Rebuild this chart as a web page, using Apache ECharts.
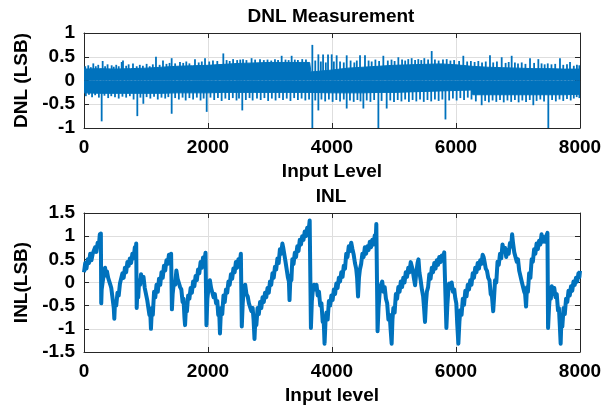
<!DOCTYPE html>
<html><head><meta charset="utf-8">
<script src="https://cdn.jsdelivr.net/npm/echarts@6/dist/echarts.min.js"></script>
<style>html,body{margin:0;padding:0;background:#fff}#c{width:613px;height:410px}</style>
</head><body><div id="c"></div>
<script>
// ---------- DATA ----------
const xTicks = [0, 2000, 4000, 6000, 8000];
const dnlTicks = [-1, -0.5, 0, 0.5, 1];
const inlTicks = [-1.5, -1, -0.5, 0, 0.5, 1, 1.5];

// DNL: dense band (upper / lower edge of the solid noise band)
const dnlEnvX = [0, 250, 500, 750, 1000, 1250, 1500, 1750, 2000, 2250, 2500, 2750, 3000, 3250, 3500, 3640, 3660, 4000, 4250, 4500, 4750, 5000, 5250, 5500, 5750, 6000, 6250, 6270, 6500, 6750, 7000, 7250, 7500, 7750, 8000];
const dnlUpper = [0.24, 0.25, 0.24, 0.25, 0.26, 0.28, 0.30, 0.31, 0.32, 0.34, 0.36, 0.37, 0.38, 0.38, 0.38, 0.38, 0.18, 0.22, 0.26, 0.28, 0.30, 0.32, 0.33, 0.34, 0.35, 0.33, 0.30, 0.30, 0.28, 0.27, 0.26, 0.25, 0.25, 0.24, 0.24];
const dnlLower = [-0.26, -0.27, -0.27, -0.27, -0.27, -0.27, -0.26, -0.26, -0.26, -0.25, -0.25, -0.25, -0.25, -0.25, -0.25, -0.25, -0.25, -0.26, -0.26, -0.26, -0.25, -0.25, -0.24, -0.23, -0.22, -0.21, -0.20, -0.30, -0.30, -0.30, -0.30, -0.30, -0.30, -0.30, -0.29];

// DNL: individual spikes sticking out of the band
const dnlSpikeUpX = [20, 69, 110, 150, 190, 230, 301, 340, 380, 446, 480, 520, 560, 608, 629, 680, 720, 790, 850, 900, 950, 1010, 1060, 1110, 1161, 1220, 1274, 1330, 1380, 1414, 1470, 1548, 1600, 1650, 1700, 1790, 1850, 1900, 1952, 2020, 2080, 2150, 2247, 2300, 2350, 2405, 2470, 2520, 2565, 2620, 2703, 2760, 2839, 2900, 2960, 3020, 3080, 3130, 3188, 3250, 3300, 3349, 3400, 3450, 3520, 3580, 3683, 3730, 3780, 3820, 3856, 3900, 3936, 3995, 4030, 4075, 4130, 4190, 4237, 4300, 4360, 4400, 4452, 4532, 4590, 4640, 4700, 4760, 4828, 4900, 4960, 5010, 5070, 5130, 5180, 5230, 5285, 5340, 5392, 5440, 5489, 5550, 5608, 5660, 5720, 5790, 5850, 5910, 5970, 6050, 6118, 6180, 6240, 6300, 6360, 6420, 6480, 6548, 6600, 6660, 6737, 6800, 6850, 6898, 6950, 7000, 7060, 7120, 7194, 7260, 7328, 7380, 7430, 7480, 7540, 7600, 7677, 7730, 7790, 7839, 7900, 7950, 7989];
const dnlSpikeUpY = [0.30, 0.32, 0.28, 0.36, 0.30, 0.33, 0.41, 0.30, 0.34, 0.32, 0.29, 0.33, 0.30, 0.39, 0.42, 0.31, 0.34, 0.36, 0.30, 0.33, 0.31, 0.35, 0.30, 0.34, 0.50, 0.33, 0.42, 0.35, 0.37, 0.47, 0.36, 0.39, 0.37, 0.40, 0.36, 0.45, 0.38, 0.40, 0.47, 0.40, 0.42, 0.41, 0.57, 0.43, 0.41, 0.45, 0.43, 0.44, 0.45, 0.43, 0.47, 0.44, 0.45, 0.43, 0.44, 0.42, 0.45, 0.43, 0.52, 0.44, 0.43, 0.52, 0.44, 0.43, 0.45, 0.44, 0.75, 0.42, 0.55, 0.40, 0.55, 0.38, 0.55, 0.55, 0.40, 0.53, 0.40, 0.38, 0.53, 0.42, 0.38, 0.42, 0.53, 0.53, 0.42, 0.40, 0.44, 0.41, 0.52, 0.42, 0.44, 0.41, 0.49, 0.44, 0.42, 0.45, 0.47, 0.43, 0.45, 0.43, 0.47, 0.44, 0.62, 0.44, 0.42, 0.44, 0.45, 0.42, 0.43, 0.41, 0.52, 0.40, 0.41, 0.39, 0.41, 0.38, 0.40, 0.53, 0.38, 0.40, 0.49, 0.37, 0.39, 0.52, 0.38, 0.36, 0.38, 0.35, 0.47, 0.37, 0.45, 0.36, 0.34, 0.36, 0.34, 0.35, 0.47, 0.33, 0.34, 0.39, 0.31, 0.33, 0.32];
const dnlSpikeDownX = [30, 80, 130, 180, 240, 285, 330, 390, 440, 500, 560, 620, 680, 740, 800, 860, 910, 957, 1010, 1070, 1130, 1190, 1250, 1310, 1360, 1414, 1470, 1530, 1590, 1640, 1700, 1760, 1820, 1880, 1930, 1979, 2040, 2100, 2160, 2220, 2280, 2340, 2400, 2460, 2500, 2553, 2610, 2670, 2720, 2790, 2850, 2910, 2970, 3030, 3090, 3150, 3210, 3270, 3330, 3390, 3450, 3510, 3570, 3630, 3683, 3730, 3780, 3830, 3890, 3950, 4010, 4070, 4130, 4190, 4237, 4290, 4350, 4410, 4460, 4506, 4560, 4620, 4680, 4748, 4800, 4882, 4940, 5000, 5060, 5120, 5180, 5240, 5300, 5360, 5420, 5480, 5540, 5600, 5660, 5720, 5780, 5830, 5890, 5950, 6010, 6070, 6130, 6190, 6250, 6320, 6414, 6470, 6530, 6590, 6650, 6710, 6770, 6830, 6890, 6950, 7010, 7070, 7130, 7190, 7247, 7300, 7360, 7420, 7489, 7550, 7610, 7670, 7730, 7790, 7850, 7900, 7947, 7990];
const dnlSpikeDownY = [-0.33, -0.30, -0.35, -0.31, -0.36, -0.86, -0.32, -0.37, -0.33, -0.35, -0.38, -0.34, -0.36, -0.33, -0.40, -0.75, -0.36, -0.49, -0.35, -0.38, -0.34, -0.40, -0.36, -0.38, -0.35, -0.70, -0.37, -0.40, -0.36, -0.42, -0.37, -0.40, -0.36, -0.42, -0.38, -0.66, -0.36, -0.41, -0.37, -0.43, -0.38, -0.41, -0.37, -0.42, -0.38, -0.63, -0.41, -0.37, -0.42, -0.38, -0.41, -0.37, -0.43, -0.38, -0.42, -0.37, -0.41, -0.38, -0.43, -0.37, -0.41, -0.38, -0.42, -0.40, -1.0, -0.42, -0.63, -0.40, -0.44, -0.40, -0.45, -0.41, -0.44, -0.40, -0.59, -0.42, -0.45, -0.41, -0.44, -0.59, -0.42, -0.45, -0.41, -1.0, -0.43, -0.59, -0.42, -0.45, -0.41, -0.44, -0.40, -0.45, -0.41, -0.44, -0.40, -0.45, -0.41, -0.44, -0.40, -0.43, -0.40, -0.82, -0.42, -0.38, -0.42, -0.37, -0.41, -0.36, -0.40, -0.44, -0.52, -0.43, -0.46, -0.42, -0.45, -0.41, -0.46, -0.42, -0.45, -0.41, -0.46, -0.42, -0.45, -0.41, -0.52, -0.43, -0.40, -0.44, -1.0, -0.41, -0.44, -0.40, -0.43, -0.39, -0.42, -0.38, -0.35, -0.37];

// INL trace (read segment by segment; each line of X matches the same line of Y)
const inlX = [
  0, 20, 40, 60, 80, 100, 120, 140, 160, 180, 200, 220, 240, 255, 265, 272,
  278, 285, 300, 320, 340, 355, 370, 390, 410, 425, 440, 455, 470, 480, 489,
  500, 520, 540, 560, 580, 600, 620, 640, 660, 680, 700, 720, 740, 760, 780, 800, 820, 835, 842,
  850, 860, 875, 890, 905, 920, 940, 960, 980, 1000, 1020, 1040, 1055, 1068, 1080,
  1095, 1110, 1130, 1150, 1170, 1190, 1210, 1230, 1250, 1270, 1290, 1310, 1330, 1350, 1370, 1390, 1405,
  1418, 1430, 1450, 1470, 1490, 1510, 1530, 1550, 1570, 1590, 1605, 1620, 1630,
  1645, 1660, 1680, 1700, 1720, 1740, 1760, 1780, 1800, 1820, 1840, 1860, 1880, 1900, 1920, 1940, 1960,
  1975, 1990, 2010, 2030, 2050, 2070, 2090, 2110, 2130, 2150, 2165, 2180, 2193,
  2210, 2230, 2250, 2270, 2290, 2310, 2330, 2350, 2370, 2390, 2410, 2430, 2450, 2470, 2490, 2510, 2530,
  2545, 2560, 2580, 2600, 2620, 2640, 2660, 2680, 2700, 2720, 2735, 2750,
  2765, 2780, 2800, 2820, 2840, 2860, 2880, 2900, 2920, 2940, 2960, 2980, 3000, 3020, 3040, 3060, 3080, 3100, 3120, 3140, 3160, 3180, 3200, 3215, 3230,
  3250, 3270, 3290, 3305, 3315,
  3330, 3345, 3360, 3380, 3400, 3420, 3440, 3460, 3480, 3500, 3520, 3540, 3560, 3580, 3600, 3620, 3640,
  3660, 3675, 3690, 3710, 3730, 3750, 3770, 3790, 3810, 3830, 3850, 3865, 3880,
  3895, 3910, 3930, 3950, 3970, 3990, 4010, 4030, 4050, 4070, 4090, 4110, 4130, 4150, 4170, 4190, 4210, 4230, 4250, 4270, 4290, 4310, 4330,
  4350, 4370, 4390, 4405, 4420,
  4435, 4450, 4470, 4490, 4510, 4530, 4550, 4570, 4590, 4610, 4630, 4650, 4670, 4690, 4705, 4715,
  4735, 4750, 4770, 4790, 4810, 4830, 4850, 4870, 4890, 4910, 4930, 4945, 4962,
  4975, 4990, 5010, 5030, 5050, 5070, 5090, 5110, 5130, 5150, 5170, 5190, 5210, 5230, 5250, 5270, 5285,
  5300, 5320, 5340, 5360, 5380, 5395, 5410, 5430, 5450, 5470, 5485, 5500,
  5515, 5530, 5550, 5570, 5590, 5610, 5630, 5650, 5670, 5690, 5710, 5730, 5750, 5770, 5790, 5810, 5830,
  5845, 5860, 5875, 5890, 5910, 5930, 5950, 5970, 5990, 6005, 6020, 6038,
  6055, 6070, 6090, 6110, 6130, 6150, 6170, 6190, 6210, 6230, 6250, 6270, 6290, 6310, 6330, 6350, 6370, 6390, 6410, 6430, 6445,
  6460, 6480, 6500, 6520, 6540, 6560, 6580, 6600,
  6615, 6630, 6650, 6670, 6690, 6710, 6730, 6750, 6770, 6790, 6810, 6830,
  6850, 6870, 6890, 6905,
  6920, 6940, 6960, 6980, 7000, 7020, 7040, 7060, 7080, 7100, 7115, 7130,
  7145, 7160, 7180, 7200, 7220, 7240, 7260, 7280, 7300, 7320, 7340, 7360, 7380, 7400, 7420, 7440, 7460, 7475,
  7485, 7500, 7515, 7530, 7545, 7565, 7585, 7605, 7625, 7645, 7660, 7675, 7688,
  7700, 7715, 7735, 7755, 7775, 7795, 7815, 7835, 7855, 7875, 7895, 7915, 7935, 7955, 7975, 7990, 8000
];
const inlY = [
  0.22, 0.42, 0.30, 0.50, 0.42, 0.62, 0.48, 0.62, 0.58, 0.76, 0.66, 0.86, 0.80, 1.04, 0.90, 1.06,
  -0.45, -0.15, 0.0, 0.18, 0.32, 0.15, 0.24, 0.10, 0.12, -0.05, -0.12, -0.28, -0.32, -0.55, -0.78,
  -0.42, -0.50, -0.22, -0.28, -0.02, -0.05, 0.20, 0.10, 0.32, 0.22, 0.44, 0.36, 0.52, 0.42, 0.62, 0.52, 0.76, 0.66, 0.84,
  -0.55, -0.20, -0.32, 0.05, -0.05, 0.18, 0.02, 0.12, -0.12, -0.15, -0.38, -0.35, -0.70, -0.62, -1.0,
  -0.55, -0.70, -0.20, -0.32, -0.05, -0.20, 0.08, -0.05, 0.22, 0.10, 0.36, 0.26, 0.48, 0.40, 0.60, 0.45, 0.62,
  -0.58, -0.25, 0.0, -0.05, 0.26, 0.08, 0.12, -0.10, -0.15, -0.42, -0.35, -0.75, -0.92,
  -0.52, -0.62, -0.28, -0.35, -0.12, -0.22, 0.02, -0.08, 0.14, 0.05, 0.28, 0.20, 0.44, 0.32, 0.54, 0.44, 0.64,
  -0.92, -0.35, -0.10, 0.05, -0.12, -0.15, -0.32, -0.25, -0.45, -0.40, -0.70, -0.60, -1.10,
  -0.55, -0.68, -0.28, -0.42, -0.15, -0.22, 0.02, -0.05, 0.18, 0.08, 0.30, 0.22, 0.44, 0.32, 0.50, 0.40, 0.62,
  -0.95, -0.45, -0.10, -0.05, -0.25, -0.30, -0.45, -0.42, -0.62, -0.55, -0.80, -1.22,
  -0.75, -0.92, -0.55, -0.68, -0.42, -0.55, -0.32, -0.42, -0.22, -0.32, -0.12, -0.22, 0.02, -0.05, 0.20, 0.10, 0.34, 0.28, 0.52, 0.42, 0.72, 0.62, 0.84, 0.74, 0.78,
  0.45, 0.48, 0.10, 0.02, -0.38,
  0.15, 0.05, 0.50, 0.40, 0.64, 0.55, 0.78, 0.68, 0.92, 0.82, 1.00, 0.92, 1.10, 1.00, 1.18, 1.08, 1.34,
  -0.98, -0.40, -0.18, -0.05, -0.15, -0.05, -0.28, -0.20, -0.50, -0.45, -0.85, -0.78, -1.32,
  -0.85, -0.65, -0.80, -0.40, -0.50, -0.28, -0.38, -0.15, -0.25, -0.02, -0.12, 0.10, 0.02, 0.22, 0.12, 0.36, 0.30, 0.62, 0.55, 0.78, 0.68, 0.86, 0.72,
  0.60, 0.42, 0.30, 0.10, -0.30,
  0.10, 0.28, 0.40, 0.62, 0.55, 0.76, 0.62, 0.78, 0.70, 0.88, 0.76, 0.92, 0.82, 1.02, 0.90, 1.26,
  -1.05, -0.55, -0.20, -0.05, 0.02, -0.20, -0.10, -0.35, -0.45, -0.80, -0.70, -1.00, -1.32,
  -0.80, -0.55, -0.65, -0.25, -0.35, -0.10, -0.20, 0.02, -0.10, 0.10, 0.00, 0.22, 0.12, 0.32, 0.22, 0.44, 0.48,
  0.28, 0.10, -0.06, 0.22, 0.42, 0.50, 0.22, 0.05, -0.15, -0.30, -0.55, -0.85,
  -0.45, -0.20, -0.10, 0.18, 0.08, 0.32, 0.22, 0.42, 0.30, 0.48, 0.38, 0.55, 0.44, 0.58, 0.50, 0.65, 0.62,
  -0.98, -0.50, -0.20, -0.02, -0.12, 0.0, -0.20, -0.15, -0.35, -0.45, -0.90, -1.32,
  -0.85, -0.60, -0.70, -0.35, -0.48, -0.18, -0.30, -0.05, -0.15, 0.05, -0.05, 0.20, 0.10, 0.32, 0.22, 0.42, 0.30, 0.48, 0.40, 0.60, 0.55,
  0.45, 0.30, 0.25, 0.10, 0.05, -0.25, -0.30, -0.62,
  -0.30, 0.05, 0.0, 0.45, 0.38, 0.62, 0.52, 0.82, 0.70, 0.75, 0.55, 0.70,
  0.62, 0.85, 0.78, 1.04,
  0.85, 0.65, 0.68, 0.45, 0.50, 0.25, 0.28, 0.02, 0.05, -0.20, -0.25, -0.52,
  -0.10, -0.20, 0.20, 0.10, 0.50, 0.45, 0.72, 0.62, 0.84, 0.72, 0.90, 0.82, 1.04, 0.88, 0.98, 0.88, 1.02, 1.07,
  -0.98, -0.55, -0.25, -0.35, -0.08, -0.25, -0.12, -0.32, -0.25, -0.60, -0.55, -0.95, -1.32,
  -0.80, -0.95, -0.55, -0.68, -0.35, -0.42, -0.18, -0.28, -0.08, -0.18, 0.02, -0.05, 0.10, 0.02, 0.20, 0.12, 0.25
];

// ---------- CHART ----------
const BLUE = '#0072BD';
const FONT = '"Liberation Sans", Arial, Helvetica, sans-serif';
const txt = { fontFamily: FONT, fontWeight: 'bold', fontSize: 19, color: '#000' };
const zip = (a, b) => a.map((v, i) => [v, b[i]]);
const plain = v => String(v);

function xMain(grid, name) {
  return {
    gridIndex: grid, type: 'value', position: 'bottom',
    min: xTicks[0], max: xTicks[xTicks.length - 1], interval: xTicks[1] - xTicks[0],
    axisLine: { onZero: false, lineStyle: { color: '#262626', width: 1 } },
    axisTick: { inside: true, length: 5, lineStyle: { color: '#262626' } },
    axisLabel: Object.assign({ margin: 10, formatter: plain }, txt),
    splitLine: { show: true, lineStyle: { color: '#dedede', width: 1 } },
    name: name, nameLocation: 'middle', nameGap: 34, nameTextStyle: Object.assign({}, txt)
  };
}
function xMirror(grid) {
  return {
    gridIndex: grid, type: 'value', position: 'top',
    min: xTicks[0], max: xTicks[xTicks.length - 1], interval: xTicks[1] - xTicks[0],
    axisLine: { onZero: false, lineStyle: { color: '#262626', width: 1 } },
    axisTick: { inside: true, length: 5, lineStyle: { color: '#262626' } },
    axisLabel: { show: false }, splitLine: { show: false }
  };
}
function yMain(grid, ticks, name) {
  return {
    gridIndex: grid, type: 'value', position: 'left',
    min: ticks[0], max: ticks[ticks.length - 1], interval: ticks[1] - ticks[0],
    axisLine: { onZero: false, lineStyle: { color: '#262626', width: 1 } },
    axisTick: { inside: true, length: 5, lineStyle: { color: '#262626' } },
    axisLabel: Object.assign({ margin: 9, formatter: plain }, txt),
    splitLine: { show: true, lineStyle: { color: '#dedede', width: 1 } },
    name: name, nameLocation: 'middle', nameGap: 49, nameRotate: 90, nameTextStyle: Object.assign({}, txt)
  };
}
function yMirror(grid, ticks) {
  return {
    gridIndex: grid, type: 'value', position: 'right',
    min: ticks[0], max: ticks[ticks.length - 1], interval: ticks[1] - ticks[0],
    axisLine: { onZero: false, lineStyle: { color: '#262626', width: 1 } },
    axisTick: { inside: true, length: 5, lineStyle: { color: '#262626' } },
    axisLabel: { show: false }, splitLine: { show: false }
  };
}

const chart = echarts.init(document.getElementById('c'), null, { renderer: 'canvas' });
chart.setOption({
  animation: false,
  backgroundColor: '#fff',
  grid: [
    { left: 84, top: 33, width: 496, height: 95 },
    { left: 84, top: 213, width: 496, height: 139 }
  ],
  graphic: [
    { type: 'text', x: 331, y: 17, style: { text: 'DNL Measurement', textAlign: 'center', textVerticalAlign: 'middle', font: 'bold 19px ' + FONT, fill: '#000' } },
    { type: 'text', x: 331, y: 197, style: { text: 'INL', textAlign: 'center', textVerticalAlign: 'middle', font: 'bold 19px ' + FONT, fill: '#000' } }
  ],
  xAxis: [xMain(0, 'Input Level'), xMirror(0), xMain(1, 'Input level'), xMirror(1)],
  yAxis: [yMain(0, dnlTicks, 'DNL (LSB)'), yMirror(0, dnlTicks), yMain(1, inlTicks, 'INL(LSB)'), yMirror(1, inlTicks)],
  series: [
    { type: 'line', xAxisIndex: 0, yAxisIndex: 0, data: zip(dnlEnvX, dnlUpper), symbol: 'none',
      lineStyle: { color: BLUE, width: 1 }, areaStyle: { color: BLUE, opacity: 1, origin: 'auto' } },
    { type: 'line', xAxisIndex: 0, yAxisIndex: 0, data: zip(dnlEnvX, dnlLower), symbol: 'none',
      lineStyle: { color: BLUE, width: 1 }, areaStyle: { color: BLUE, opacity: 1, origin: 'auto' } },
    { type: 'bar', xAxisIndex: 0, yAxisIndex: 0, barWidth: 1.8,
      data: zip(dnlSpikeUpX, dnlSpikeUpY).concat(zip(dnlSpikeDownX, dnlSpikeDownY)),
      itemStyle: { color: BLUE } },
    { type: 'line', xAxisIndex: 2, yAxisIndex: 2, data: zip(inlX, inlY), symbol: 'none',
      lineStyle: { color: BLUE, width: 4, join: 'round' } }
  ]
});
</script></body></html>
